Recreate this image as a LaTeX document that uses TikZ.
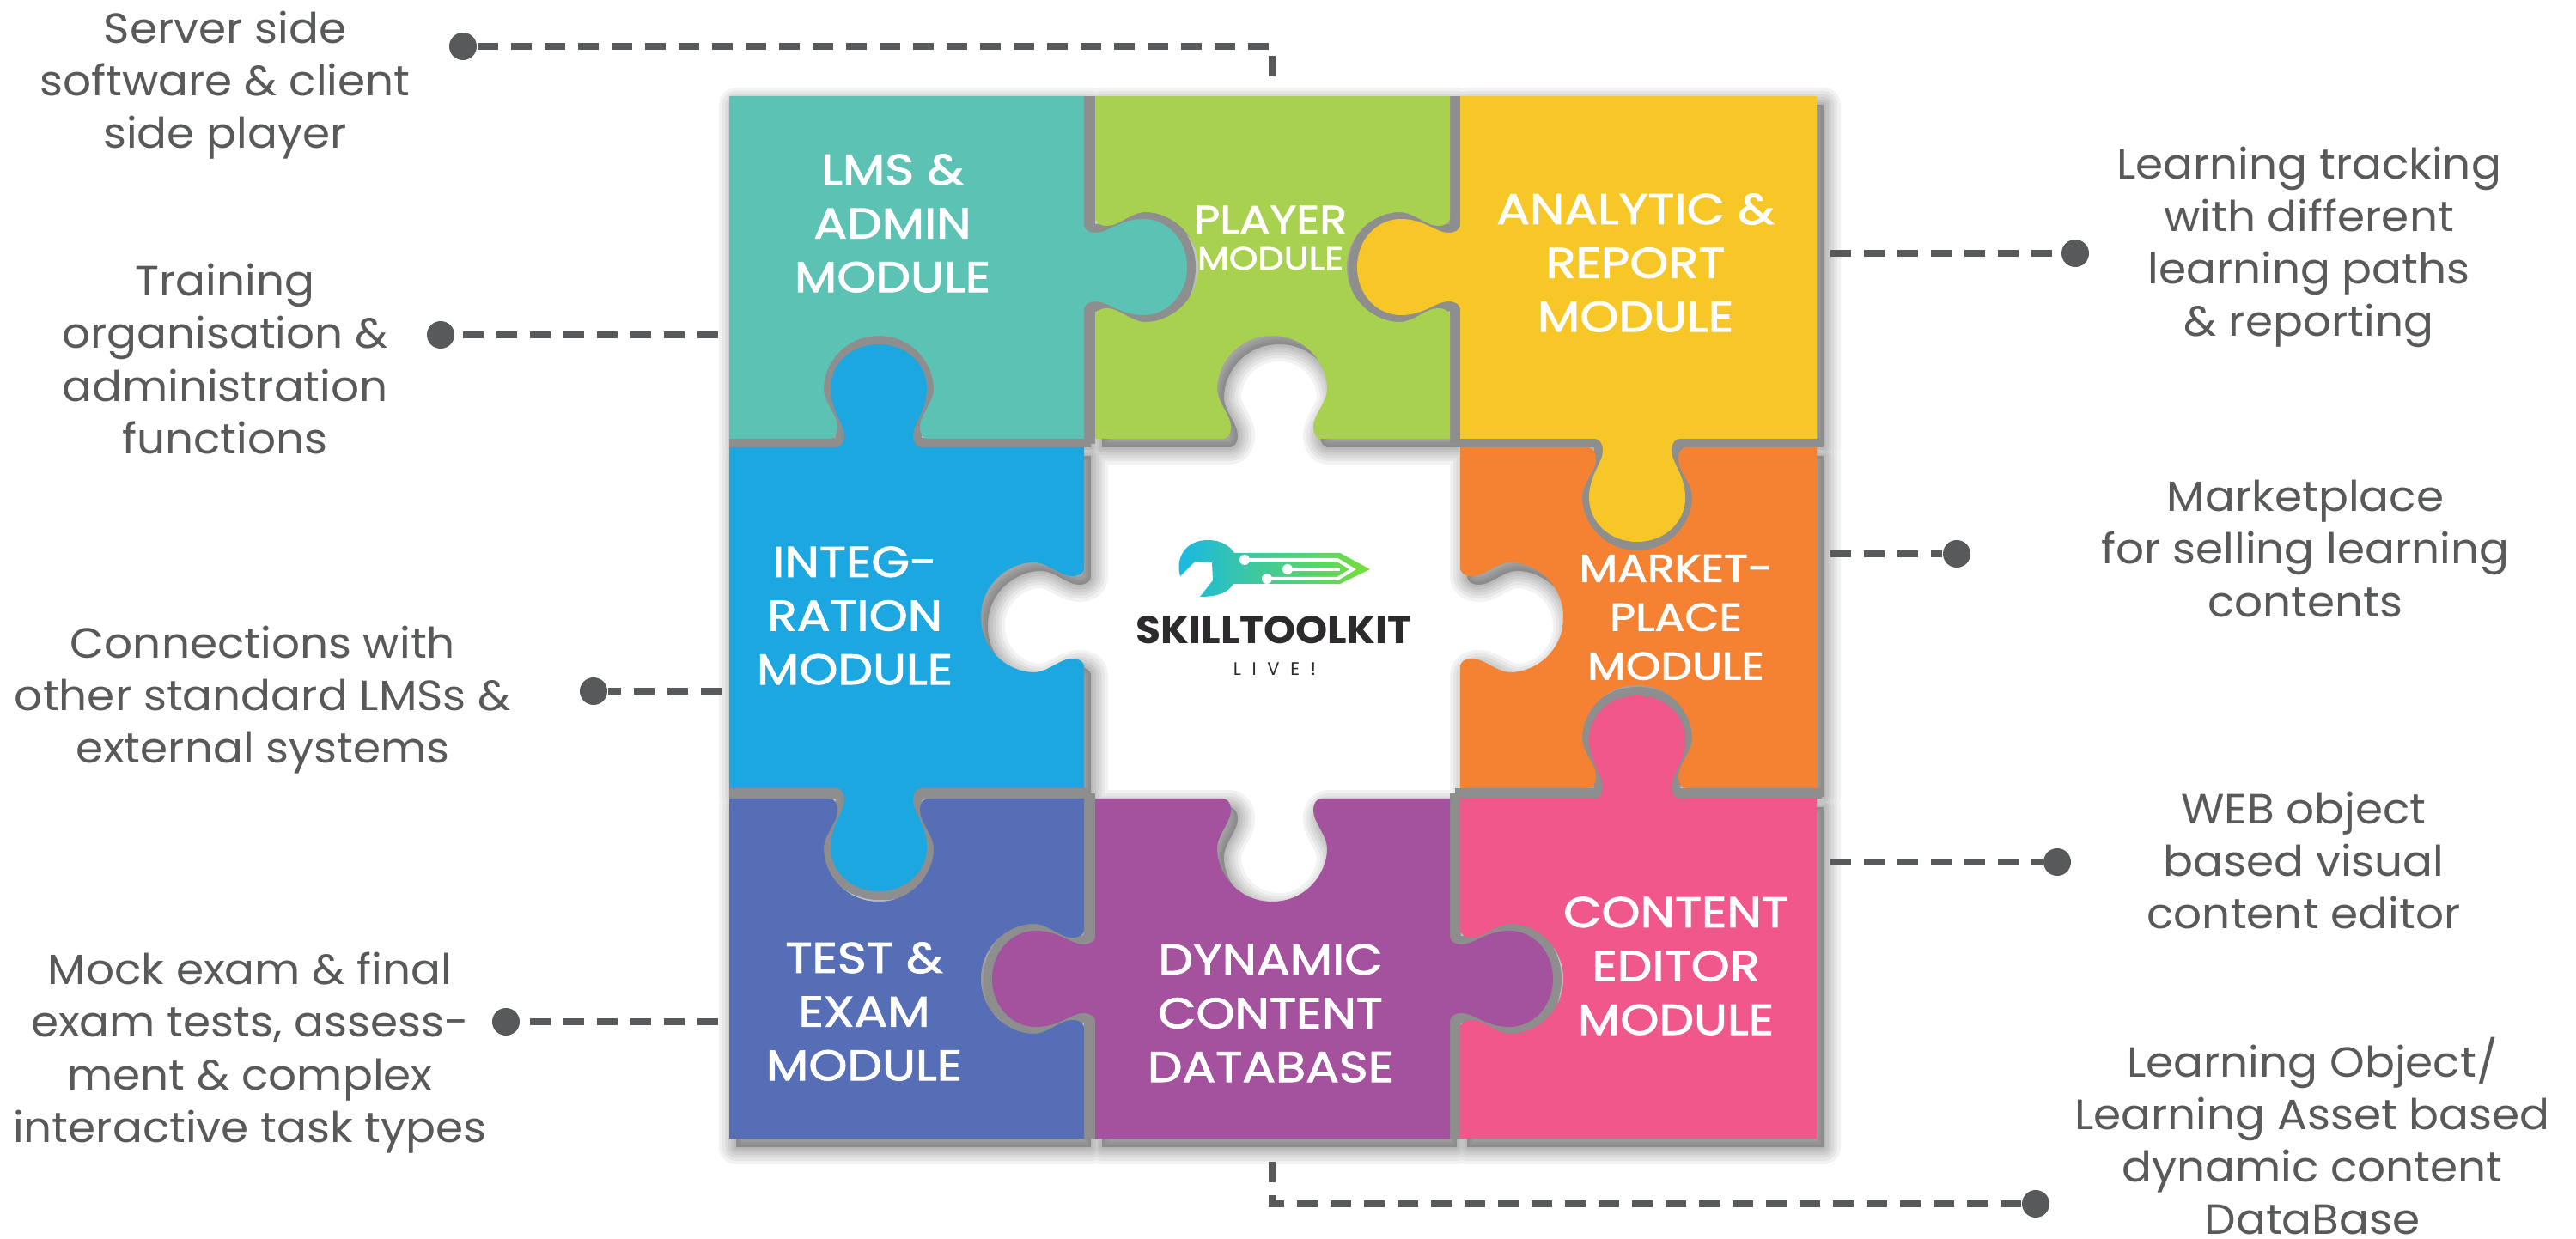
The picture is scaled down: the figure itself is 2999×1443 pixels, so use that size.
\documentclass[tikz,border=0pt]{standalone}
\usepackage{fontspec}
\setmainfont[FakeStretch=1.05]{Poppins}
\newfontfamily\modfont[FakeStretch=1.15,FakeBold=2]{Poppins}
\newfontfamily\livefont[LetterSpace=60]{Poppins}

\definecolor{lmscol}{HTML}{5CC2B4}
\definecolor{playercol}{HTML}{A9D150}
\definecolor{reportcol}{HTML}{F7C727}
\definecolor{integcol}{HTML}{1DA7E0}
\definecolor{marketcol}{HTML}{F58233}
\definecolor{testcol}{HTML}{566EB5}
\definecolor{dbcol}{HTML}{A4519E}
\definecolor{editorcol}{HTML}{F0578A}
\definecolor{linkcol}{HTML}{58595B}
\definecolor{logotext}{HTML}{2D2A2E}
\definecolor{gapcol}{HTML}{8E8E8E}

% one point of a lobe: cx cy tx ty sign u v
\newcommand{\lobept}[7]{({#1+#3*(#6)+#4*#5*(#7)},{#2+#4*(#6)-#3*#5*(#7)})}
% lobe on an edge: cx cy tx ty, sign (1 out, -1 in), widening
\newcommand{\lobe}[6]{%
    -- \lobept{#1}{#2}{#3}{#4}{#5}{-50-#6}{0}
    .. controls \lobept{#1}{#2}{#3}{#4}{#5}{-43-#6}{0} and \lobept{#1}{#2}{#3}{#4}{#5}{-40-#6}{6} .. \lobept{#1}{#2}{#3}{#4}{#5}{-40-#6}{14}
    .. controls \lobept{#1}{#2}{#3}{#4}{#5}{-40-#6}{28} and \lobept{#1}{#2}{#3}{#4}{#5}{-56-#6}{42} .. \lobept{#1}{#2}{#3}{#4}{#5}{-56-#6}{69-1.3*#6}
    .. controls \lobept{#1}{#2}{#3}{#4}{#5}{-56-#6}{97-1.3*#6} and \lobept{#1}{#2}{#3}{#4}{#5}{-32-#6}{120} .. \lobept{#1}{#2}{#3}{#4}{#5}{0}{120}
    .. controls \lobept{#1}{#2}{#3}{#4}{#5}{32+#6}{120} and \lobept{#1}{#2}{#3}{#4}{#5}{56+#6}{97-1.3*#6} .. \lobept{#1}{#2}{#3}{#4}{#5}{56+#6}{69-1.3*#6}
    .. controls \lobept{#1}{#2}{#3}{#4}{#5}{56+#6}{42} and \lobept{#1}{#2}{#3}{#4}{#5}{40+#6}{28} .. \lobept{#1}{#2}{#3}{#4}{#5}{40+#6}{14}
    .. controls \lobept{#1}{#2}{#3}{#4}{#5}{40+#6}{6} and \lobept{#1}{#2}{#3}{#4}{#5}{43+#6}{0} .. \lobept{#1}{#2}{#3}{#4}{#5}{50+#6}{0}
}

% the eight pieces
\newcommand{\piecelms}{(849,112) -- (1262,112) \lobe{1262}{311}{0}{1}{1}{0} -- (1262,511) \lobe{1023}{511}{-1}{0}{-1}{8} -- (849,511) -- cycle}
\newcommand{\pieceplayer}{(1275,112) -- (1688,112) \lobe{1688}{311}{0}{1}{-1}{8} -- (1688,511) \lobe{1481}{511}{-1}{0}{-1}{8} -- (1275,511) \lobe{1275}{311}{0}{-1}{-1}{8} -- cycle}
\newcommand{\piecereport}{(1700,112) -- (2115,112) -- (2115,511) \lobe{1906}{511}{-1}{0}{1}{0} -- (1700,511) \lobe{1700}{311}{0}{-1}{1}{0} -- cycle}
\newcommand{\pieceinteg}{(849,521) \lobe{1023}{521}{1}{0}{1}{0} -- (1262,521) \lobe{1262}{719}{0}{1}{-1}{8} -- (1262,918) \lobe{1023}{918}{-1}{0}{1}{0} -- (849,918) -- cycle}
\newcommand{\piecemarket}{(1700,521) \lobe{1906}{521}{1}{0}{-1}{8} -- (2115,521) -- (2115,918) \lobe{1906}{918}{-1}{0}{-1}{8} -- (1700,918) \lobe{1700}{719}{0}{-1}{-1}{8} -- cycle}
\newcommand{\piecetest}{(849,930) \lobe{1023}{930}{1}{0}{-1}{8} -- (1262,930) \lobe{1262}{1140}{0}{1}{-1}{8} -- (1262,1326) -- (849,1326) -- cycle}
\newcommand{\piecedb}{(1275,930) \lobe{1481}{930}{1}{0}{-1}{8} -- (1688,930) \lobe{1688}{1140}{0}{1}{1}{0} -- (1688,1326) -- (1275,1326) \lobe{1275}{1140}{0}{-1}{1}{0} -- cycle}
\newcommand{\pieceeditor}{(1700,930) \lobe{1906}{930}{1}{0}{1}{0} -- (2115,930) -- (2115,1326) -- (1700,1326) \lobe{1700}{1140}{0}{-1}{-1}{8} -- cycle}

\tikzset{
    modlabel/.style={align=center, text=white, font=\fontsize{14.2}{17.8}\selectfont\modfont},
    sidelabel/.style={align=center, inner sep=0pt, text=linkcol, font=\fontsize{14}{17.4}\selectfont},
    dotnode/.style={circle, fill=linkcol, minimum size=0.32cm, inner sep=0pt},
    link/.style={draw=linkcol, line width=0.08cm, dash pattern=on 0.24cm off 0.15cm},
    blurlayer/.style={draw=black, opacity=0.05, line join=round, shift={(8,10)}},
    gapline/.style={draw=gapcol, line width=0.2cm}
}

\begin{document}
\begin{tikzpicture}[x=0.01cm, y=-0.01cm]

    \useasboundingbox (0,0) rectangle (2999,1443);

    % Shadows
    \fill[black, opacity=0.25, shift={(8,10)}] \piecelms \pieceplayer \piecereport \pieceinteg \piecemarket \piecetest \piecedb \pieceeditor;
    \foreach \w in {40,32,25,18,12,6} {
        \path[blurlayer, line width=\w*0.01cm] \piecelms \pieceplayer \piecereport \pieceinteg \piecemarket \piecetest \piecedb \pieceeditor;
    }

    % Gaps between the pieces
    \draw[gapline, line width=0.13cm] (1268,112) -- (1268,517) (1694,112) -- (1694,517) (1268,924) -- (1268,1326) (1694,924) -- (1694,1326);
    \draw[gapline, line width=0.11cm] (849,516) -- (1268,516) (1694,516) -- (2121,516) (849,924) -- (1268,924) (1694,924) -- (2121,924);
    \draw[gapline] (1262,311) \lobe{1262}{311}{0}{1}{1}{0};
    \draw[gapline] (1906,511) \lobe{1906}{511}{-1}{0}{1}{0};
    \draw[gapline] (1700,311) \lobe{1700}{311}{0}{-1}{1}{0};
    \draw[gapline] (1023,521) \lobe{1023}{521}{1}{0}{1}{0};
    \draw[gapline] (1023,918) \lobe{1023}{918}{-1}{0}{1}{0};
    \draw[gapline] (1688,1140) \lobe{1688}{1140}{0}{1}{1}{0};
    \draw[gapline] (1275,1140) \lobe{1275}{1140}{0}{-1}{1}{0};
    \draw[gapline] (1906,930) \lobe{1906}{930}{1}{0}{1}{0};

    % Pieces
    \fill[lmscol] \piecelms;
    \fill[playercol] \pieceplayer;
    \fill[reportcol] \piecereport;
    \fill[integcol] \pieceinteg;
    \fill[marketcol] \piecemarket;
    \fill[testcol] \piecetest;
    \fill[dbcol] \piecedb;
    \fill[editorcol] \pieceeditor;

    % Top row
    \node[modlabel] (lms) at (1039,260) {LMS \&\\ADMIN\\MODULE};
    \node[modlabel, font=\modfont] (player) at (1479,277) {\fontsize{13}{13.5}\selectfont PLAYER\\\fontsize{10.6}{15}\selectfont MODULE};
    \node[modlabel] (report) at (1904,306) {ANALYTIC \&\\REPORT\\MODULE};

    % Middle row
    \node[modlabel] (integ) at (995,717) {INTEG-\\RATION\\MODULE};
    \node[modlabel, font=\fontsize{12.8}{16.2}\selectfont\modfont] (market) at (1951,719) {MARKET-\\PLACE\\MODULE};

    % Bottom row
    \node[modlabel] (test) at (1006,1178) {TEST \&\\EXAM\\MODULE};
    \node[modlabel] (db) at (1479,1180) {DYNAMIC\\CONTENT\\DATABASE};
    \node[modlabel] (editor) at (1951,1125) {CONTENT\\EDITOR\\MODULE};

    % Logo in the middle
    \shade[left color=integcol!80!cyan, right color=playercol!70!green]
        (1374,671) .. controls (1368,650) and (1380,629) .. (1406,629)
        .. controls (1422,629) and (1432,636) .. (1437,644)
        -- (1560,644) -- (1595,663) -- (1560,680) -- (1436,680)
        .. controls (1430,690) and (1418,695) .. (1397,695)
        -- (1412,676) -- (1411,655) -- (1391,654) -- cycle;
    \draw[white, line width=0.04cm] (1449,652) -- (1557,652) -- (1575,663) -- (1557,674) -- (1475,674);
    \draw[white, line width=0.04cm] (1499,663) -- (1560,663);
    \fill[white] (1449,652) circle (6) (1499,663) circle (6) (1475,674) circle (6);
    \node[inner sep=0pt, text=logotext, font=\fontsize{12.8}{15}\selectfont\bfseries] (brand) at (1483,734) {SKILLTOOLKIT};
    \node[inner sep=0pt, text=logotext, font=\fontsize{6}{7}\selectfont\livefont] (live) at (1484,779) {LIVE!};

    % Left texts
    \node[sidelabel] (tplayer) at (262,99) {Server side\\software \& client\\side player};
    \node[sidelabel] (tlms) at (262,418) {Training\\organisation \&\\administration\\functions};
    \node[sidelabel] (tinteg) at (306,815) {Connections with\\other standard LMSs \&\\external systems};
    \node[sidelabel] (ttest) at (291,1226) {Mock exam \& final\\exam tests, assess-\\ment \& complex\\interactive task types};

    % Right texts
    \node[sidelabel] (treport) at (2688,288) {Learning tracking\\with different\\learning paths\\\& reporting};
    \node[sidelabel] (tmarket) at (2684,639) {Marketplace\\for selling learning\\contents};
    \node[sidelabel] (teditor) at (2682,1002) {WEB object\\based visual\\content editor};
    \node[sidelabel] (tdb) at (2692,1323) {Learning Object/\\Learning Asset based\\dynamic content\\DataBase};

    % Dots
    \node[dotnode] (dplayer) at (539,54) {};
    \node[dotnode] (dlms) at (513,390) {};
    \node[dotnode] (dinteg) at (691,805) {};
    \node[dotnode] (dtest) at (589,1190) {};
    \node[dotnode] (dreport) at (2416,295) {};
    \node[dotnode] (dmarket) at (2278,645) {};
    \node[dotnode] (deditor) at (2395,1004) {};
    \node[dotnode] (ddb) at (2370,1402) {};

    % Line ends next to the pieces
    \coordinate (eplayer) at (1481,103);
    \coordinate (elms) at (836,390);
    \coordinate (einteg) at (840,805);
    \coordinate (etest) at (836,1190);
    \coordinate (ereport) at (2131,295);
    \coordinate (emarket) at (2131,645);
    \coordinate (eeditor) at (2131,1004);
    \coordinate (edb) at (1481,1352);

    % Edges
    \draw[link] (dplayer) -| (eplayer);
    \draw[link] (elms) -- (dlms);
    \draw[link] (einteg) -- (dinteg);
    \draw[link] (etest) -- (dtest);
    \draw[link] (ereport) -- (dreport);
    \draw[link] (emarket) -- (dmarket);
    \draw[link] (eeditor) -- (deditor);
    \draw[link] (ddb) -| (edb);

\end{tikzpicture}
\end{document}
